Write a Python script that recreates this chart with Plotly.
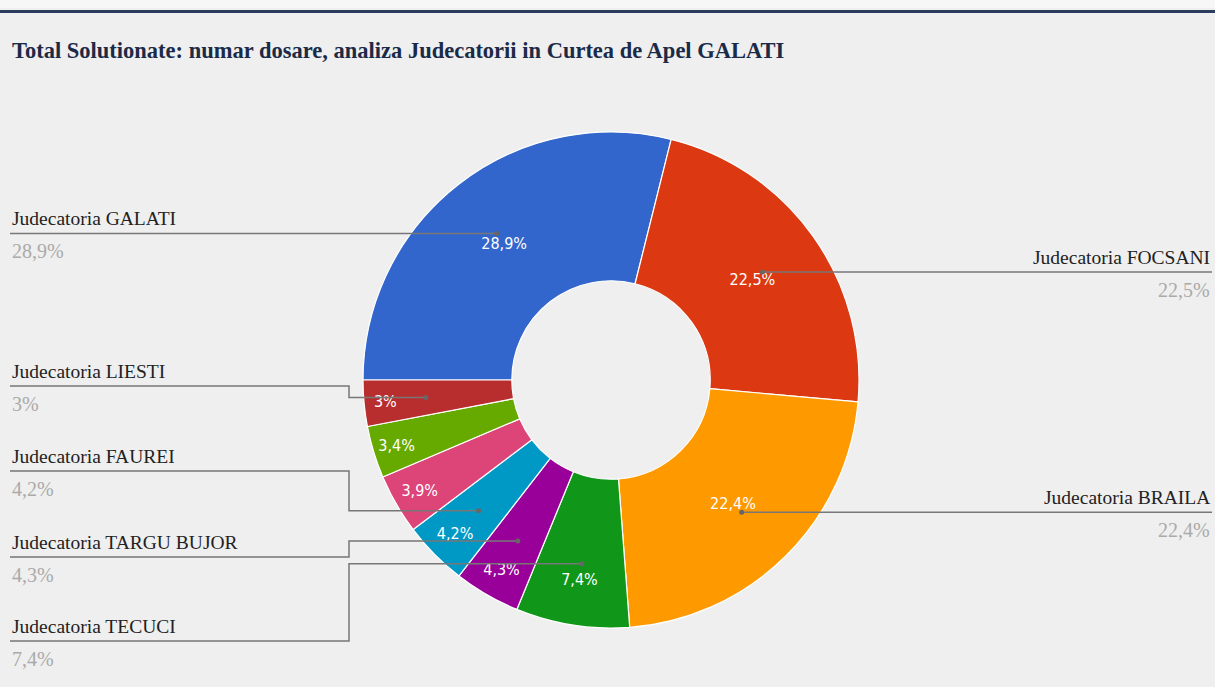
import math
import plotly.graph_objects as go

# ---------------- data ----------------
labels = [
    "Judecatoria GALATI",
    "Judecatoria FOCSANI",
    "Judecatoria BRAILA",
    "Judecatoria TECUCI",
    "Judecatoria TARGU BUJOR",
    "Judecatoria FAUREI",
    "Alta judecatorie 1",
    "Alta judecatorie 2",
    "Judecatoria LIESTI",
]
values = [28.9, 22.5, 22.4, 7.4, 4.3, 4.2, 3.9, 3.4, 3.0]
colors = ["#3366cc", "#dc3912", "#ff9900", "#109618", "#990099",
          "#0099c6", "#dd4477", "#66aa00", "#b82e2e"]
title_text = "Total Solutionate: numar dosare, analiza Judecatorii in Curtea de Apel GALATI"

# which slices get an outside label and how
side_labels = {0: "left", 1: "right", 2: "right"}          # label row at the dot height
row_labels = {8: 386, 5: 471, 4: 557, 3: 641}              # label rows on the left (px)

W, H = 1215, 687
cx, cy, R = 611, 380, 248
HOLE = 0.4
START = -90  # degrees clockwise from 12 o'clock


def fmt(v):
    s = f"{v:.1f}".replace(".", ",")
    if s.endswith(",0"):
        s = s[:-2]
    return s + "%"


pct_text = [fmt(v) for v in values]


def px(x):
    return x / W


def py(y):
    return 1 - y / H


fig = go.Figure()
fig.add_trace(go.Pie(
    labels=labels,
    values=values,
    text=pct_text,
    texttemplate="%{text}",
    textinfo="text",
    textposition="inside",
    insidetextorientation="horizontal",
    textfont=dict(color="white", size=16,
                  family="Liberation Sans Narrow, DejaVu Sans Condensed, Arial Narrow, sans-serif"),
    hole=HOLE,
    sort=False,
    direction="clockwise",
    rotation=START,
    marker=dict(colors=colors, line=dict(color="white", width=1.2)),
    domain=dict(x=[px(cx - R), px(cx + R)], y=[py(cy + R), py(cy - R)]),
    showlegend=False,
    hovertemplate="%{label}<br>%{text}<extra></extra>",
))

shapes = []
annotations = []

# top strip and border line
shapes.append(dict(type="rect", xref="paper", yref="paper", x0=0, x1=1,
                   y0=py(8), y1=1, fillcolor="#f7f7f7", line=dict(width=0), layer="below"))
shapes.append(dict(type="line", xref="paper", yref="paper", x0=0, x1=1,
                   y0=py(11.5), y1=py(11.5), line=dict(color="#2a3d5c", width=3)))

annotations.append(dict(
    text="<b>" + title_text + "</b>", xref="paper", yref="paper",
    x=px(10), y=py(50), xanchor="left", yanchor="middle", showarrow=False,
    font=dict(family="Liberation Serif, DejaVu Serif, serif", size=22.5, color="#1b2a47"),
))

LINE_COL = "#777777"
NAME_FONT = dict(family="Liberation Serif, DejaVu Serif, serif", size=19.5, color="#222222")
PCT_FONT = dict(family="Liberation Serif, DejaVu Serif, serif", size=20, color="#aaaaaa")

total = sum(values)
cum = 0.0
dots = []
for i, v in enumerate(values):
    mid = math.radians(START + (cum + v / 2) / total * 360)
    cum += v
    dx = cx + 0.75 * R * math.sin(mid)
    dy = cy - 0.75 * R * math.cos(mid)
    dots.append((dx, dy))

LEFT_X = 10
RIGHT_X = 1212
ELBOW_X = cx - R - 14


def add_label(i, side, y_line):
    xa = px(LEFT_X) if side == "left" else px(RIGHT_X)
    anchor = "left" if side == "left" else "right"
    annotations.append(dict(text=labels[i], xref="paper", yref="paper", x=xa, y=py(y_line - 2),
                            xanchor=anchor, yanchor="bottom", showarrow=False, font=NAME_FONT))
    annotations.append(dict(text=pct_text[i], xref="paper", yref="paper", x=xa, y=py(y_line + 5),
                            xanchor=anchor, yanchor="top", showarrow=False, font=PCT_FONT))


def dot(x, y):
    shapes.append(dict(type="circle", xref="paper", yref="paper",
                       x0=px(x - 2.5), x1=px(x + 2.5), y0=py(y + 2.5), y1=py(y - 2.5),
                       fillcolor="#666666", line=dict(width=0)))


for i, side in side_labels.items():
    dx, dy = dots[i]
    x_end = LEFT_X if side == "left" else RIGHT_X
    shapes.append(dict(type="line", xref="paper", yref="paper",
                       x0=px(x_end), x1=px(dx), y0=py(dy), y1=py(dy),
                       line=dict(color=LINE_COL, width=1.5)))
    dot(dx, dy)
    add_label(i, side, dy)

for i, y_row in row_labels.items():
    dx, dy = dots[i]
    path = (f"M {px(LEFT_X)},{py(y_row)} L {px(ELBOW_X)},{py(y_row)} "
            f"L {px(ELBOW_X)},{py(dy)} L {px(dx)},{py(dy)}")
    shapes.append(dict(type="path", xref="paper", yref="paper", path=path,
                       line=dict(color=LINE_COL, width=1.5)))
    dot(dx, dy)
    add_label(i, "left", y_row)

fig.update_layout(
    width=W, height=H,
    margin=dict(l=0, r=0, t=0, b=0),
    paper_bgcolor="#efefef",
    plot_bgcolor="#efefef",
    shapes=shapes,
    annotations=annotations,
    showlegend=False,
)

fig.write_html("out.html", config={"displayModeBar": False},
               post_script="document.body.style.margin='0px';")
